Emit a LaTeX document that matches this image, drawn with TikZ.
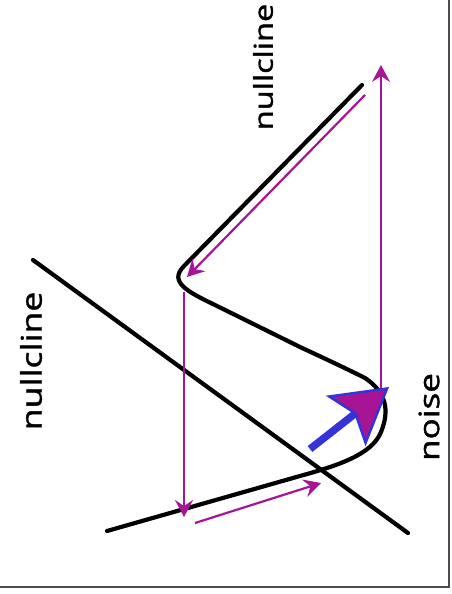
\documentclass[tikz,border=0pt]{standalone}
\usepackage{fontspec}
\setmainfont{Open Sans}
\newfontfamily\lblfont[FakeBold=1.2]{Open Sans}
\usepackage{graphicx}
\usetikzlibrary{arrows.meta}

\definecolor{jump}{RGB}{168,20,150}
\definecolor{kick}{RGB}{52,52,214}

\begin{document}
\begin{tikzpicture}[
    x=1pt, y=-1pt,
    >={Stealth[length=17pt,width=18pt,inset=6pt]},
    cline/.style={line width=4.2pt, line join=round, line cap=round},
    orbit/.style={->, draw=jump, fill=jump, line width=2.2pt},
    lbl/.style={inner sep=0pt, rotate=90},
]
\useasboundingbox (0,0) rectangle (451,594);
\draw[black!70, line width=2pt] (0,587) -- (449,587) -- (449,0);

% labels
\node[lbl, font=\lblfont\fontsize{26}{30}\selectfont] (nc-top) at (263,67) {\scalebox{1.25}[1]{nullcline}};
\node[lbl, font=\lblfont\fontsize{28.5}{32}\selectfont] (nc-left) at (31,361) {\scalebox{1.25}[1]{nullcline}};
\node[lbl, font=\lblfont\fontsize{28}{32}\selectfont] (noise) at (429,417) {\scalebox{1.25}[1]{noise}};

% nullclines
\draw[cline] (33,260) -- (408,533);
\draw[cline] (107,531) -- (300,476)
    .. controls (336,466) and (372,455) .. (381,432)
    .. controls (390,410) and (386,392) .. (365,378)
    .. controls (345,368) and (330,361) .. (300,347)
    -- (215,305)
    .. controls (188,292) and (168,282) .. (184,266)
    -- (362,85);

% orbit
\coordinate (up-s) at (381,390);
\coordinate (up-t) at (381,65);
\coordinate (dn1-s) at (365,95);
\coordinate (dn1-t) at (187,277);
\coordinate (dn2-s) at (184,292);
\coordinate (dn2-t) at (184,517);
\coordinate (rt-s) at (195,523);
\coordinate (rt-t) at (321,483);
\draw[orbit] (up-s) -- (up-t);
\draw[orbit] (dn1-s) -- (dn1-t);
\draw[orbit] (dn2-s) -- (dn2-t);
\draw[orbit] (rt-s) -- (rt-t);

% noise kick
\coordinate (kick-s) at (310,449);
\coordinate (kick-t) at (389,387);
\draw[kick, line width=7.5pt, -{Stealth[length=55pt,width=64pt,inset=11pt,fill=jump,line width=2.5pt]}] (kick-s) -- (kick-t);
\end{tikzpicture}
\end{document}
